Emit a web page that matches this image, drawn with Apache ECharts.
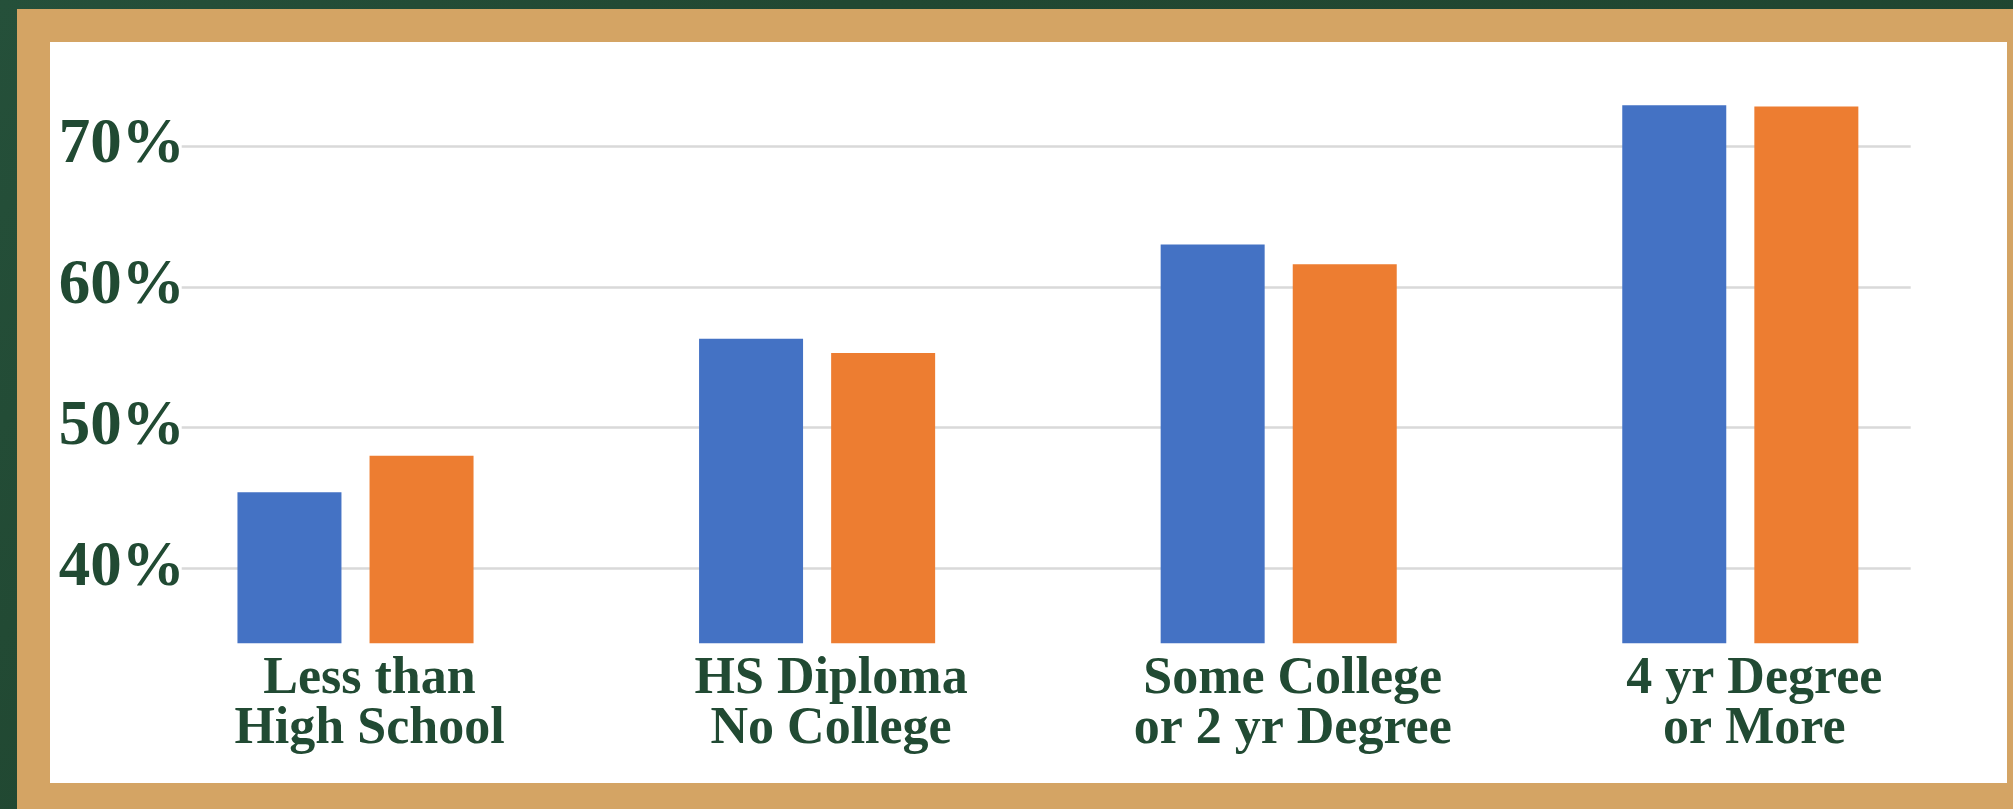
<!DOCTYPE html>
<html>
<head>
<meta charset="utf-8">
<script src="https://cdn.jsdelivr.net/npm/echarts@6/dist/echarts.min.js"></script>
<style>
  html, body { margin: 0; padding: 0; width: 2013px; height: 809px; overflow: hidden; }
  body { background: linear-gradient(135deg, #25503a 0%, #214832 30%, #1f4530 100%); position: relative; }
  #frame { position: absolute; left: 17px; top: 9px; width: 1996px; height: 800px; background: #d4a464; }
  #panel { position: absolute; left: 50px; top: 42px; width: 1957px; height: 741px; background: #ffffff; }
  #chart { position: absolute; left: 0; top: 0; width: 2013px; height: 809px; }
</style>
</head>
<body>
<div id="frame"></div>
<div id="panel"></div>
<div id="chart"></div>
<script>
const categories = ['Less than\nHigh School', 'HS Diploma\nNo College', 'Some College\nor 2 yr Degree', '4 yr Degree\nor More'];
const seriesBlue = [45.4, 56.3, 63.0, 72.9];
const seriesOrange = [48.0, 55.3, 61.6, 72.8];
const tickValues = [40, 50, 60, 70];
const yMin = 34.67;
const yMax = 75;

const textColor = '#214a33';
const fontFamily = '"Liberation Serif", "Times New Roman", serif';

const chart = echarts.init(document.getElementById('chart'), null, { renderer: 'canvas' });
const gridTop = 75.65, gridBottom = 165.7;
chart.setOption({
  backgroundColor: 'transparent',
  animation: false,
  grid: [
    { left: 124.7, right: 41.9, top: gridTop, bottom: gridBottom, containLabel: false },
    { left: 181.7, right: 102.3, top: gridTop, bottom: gridBottom, containLabel: false }
  ],
  xAxis: [
    {
      type: 'category', gridIndex: 0, data: categories,
      axisLine: { show: false }, axisTick: { show: false },
      axisLabel: {
        interval: 0, margin: 11, color: textColor, fontFamily: fontFamily,
        fontWeight: 'bold', fontSize: 52, lineHeight: 50, padding: [0, 0, 0, 28]
      }
    },
    { type: 'category', gridIndex: 1, data: categories, show: false }
  ],
  yAxis: [
    {
      type: 'value', gridIndex: 0, min: yMin, max: yMax, show: false,
      splitLine: { show: false }
    },
    {
      type: 'value', gridIndex: 1, min: yMin, max: yMax,
      axisLine: { show: false },
      axisTick: { show: false, customValues: tickValues },
      axisLabel: {
        customValues: tickValues, margin: -3, color: textColor, fontFamily: fontFamily,
        fontWeight: 'bold', fontSize: 63,
        formatter: function (v) { return Math.round(v) + '%'; }
      },
      splitLine: { show: true, lineStyle: { color: '#d9d9d9', width: 2.5 } }
    }
  ],
  series: [
    {
      type: 'bar', xAxisIndex: 0, yAxisIndex: 0, data: seriesBlue,
      barWidth: 104, barGap: '27%', itemStyle: { color: '#4472c4' }, z: 3
    },
    {
      type: 'bar', xAxisIndex: 0, yAxisIndex: 0, data: seriesOrange,
      barWidth: 104, barGap: '27%', itemStyle: { color: '#ed7d31' }, z: 3
    }
  ]
});
</script>
</body>
</html>
